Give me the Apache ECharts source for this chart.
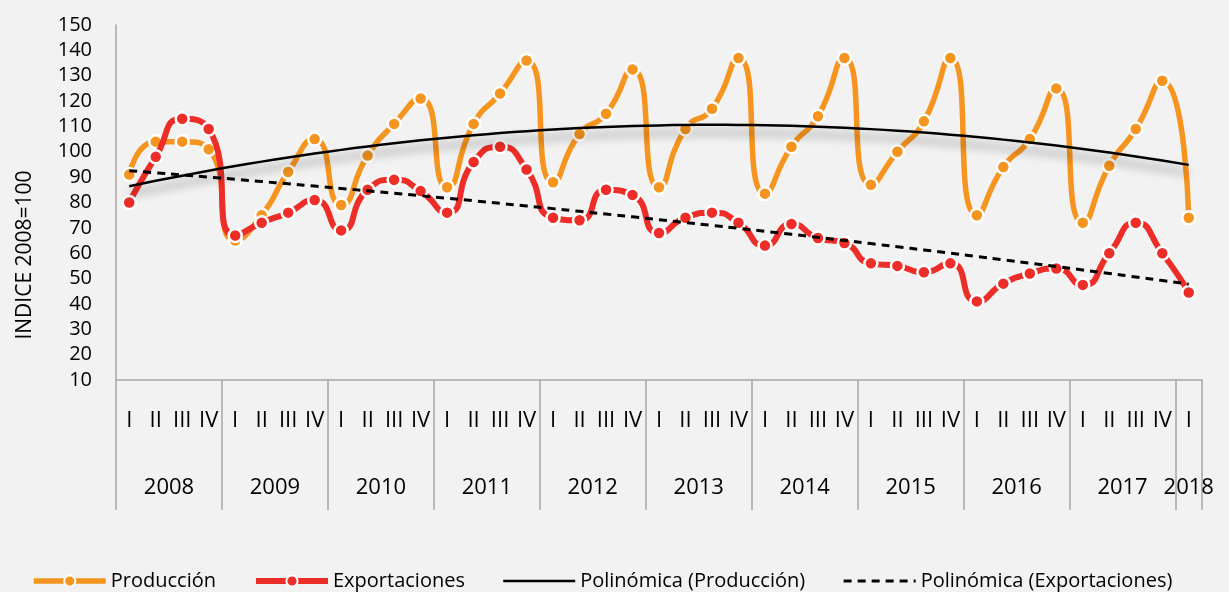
<!DOCTYPE html>
<html><head><meta charset="utf-8">
<script src="https://cdn.jsdelivr.net/npm/echarts@6/dist/echarts.min.js"></script>
<style>html,body{margin:0;padding:0;background:#F2F2F2;}#c{width:1229px;height:592px;}</style>
</head><body><div id="c"></div>
<script>
const years = ['2008','2009','2010','2011','2012','2013','2014','2015','2016','2017','2018'];
const quarterLabels = [
  'I','II','III','IV','I','II','III','IV','I','II','III','IV','I','II','III','IV',
  'I','II','III','IV','I','II','III','IV','I','II','III','IV','I','II','III','IV',
  'I','II','III','IV','I','II','III','IV','I'
];
const produccion = [91,104,104,101, 65,75,92,105, 79,98.5,111,121, 86,111,123,136,
  88,107,115,132.5, 86,109,117,137, 83.5,102,114,137, 87,100,112,137,
  75,94,105,125, 72,94.5,109,128, 74];
const exportaciones = [80,98,113,109, 67,72,76,81, 69,85,89,84.5, 76,96,102,93,
  74,73,85,83, 68,74,76,72, 63,71.5,66,64, 56,55,52.5,56,
  41,48,52,54, 47.5,60,72,60, 44.5];
const yTicks = {min:10, max:150, step:10};

// Excel-style order-2 polynomial trendline (least squares on x = 1..n)
function polyTrend(ys){
  const n = ys.length; let S=[0,0,0,0,0], T=[0,0,0];
  for(let i=0;i<n;i++){const x=i+1; let p=1; for(let k=0;k<5;k++){S[k]+=p; if(k<3)T[k]+=p*ys[i]; p*=x;}}
  const A=[[S[0],S[1],S[2],T[0]],[S[1],S[2],S[3],T[1]],[S[2],S[3],S[4],T[2]]];
  for(let c=0;c<3;c++){for(let r=c+1;r<3;r++){const f=A[r][c]/A[c][c];for(let k=c;k<4;k++)A[r][k]-=f*A[c][k];}}
  const b=[0,0,0];
  for(let r=2;r>=0;r--){let s=A[r][3];for(let k=r+1;k<3;k++)s-=A[r][k]*b[k];b[r]=s/A[r][r];}
  return ys.map((_,i)=>{const x=i+1;return b[0]+b[1]*x+b[2]*x*x;});
}
const n = quarterLabels.length;
const yearAt = {};
years.forEach((y,k)=>{const start=k*4;const cnt=Math.min(4,n-start);yearAt[start+cnt/2]=y;});

const ORANGE='#F5941E', RED='#ED2D27', AX='#A6A6A6', FONT='Open Sans';
const HIDDEN = {color:'rgba(0,0,0,0)',borderColor:'rgba(0,0,0,0)',borderWidth:0};
const chart = echarts.init(document.getElementById('c'));
chart.setOption({
  backgroundColor:'#F2F2F2',
  animation:false,
  textStyle:{fontFamily:FONT},
  grid:{left:116,right:27,top:25,bottom:212},
  legend:{top:566,left:26,itemWidth:72,itemHeight:14,itemGap:37,
    lineStyle:{width:'inherit'},
    textStyle:{fontSize:20,color:'#000',fontFamily:FONT},
    data:[
      {name:'Producción'},
      {name:'Exportaciones'},
      {name:'Polinómica (Producción)',itemStyle:HIDDEN,lineStyle:{width:2.5,shadowBlur:0,shadowOffsetY:0,shadowColor:'rgba(0,0,0,0)'}},
      {name:'Polinómica (Exportaciones)',itemStyle:HIDDEN,lineStyle:{width:3}}
    ]},
  xAxis:[
    {type:'category',data:quarterLabels,boundaryGap:true,
      axisLine:{lineStyle:{color:AX,width:1.5}},
      axisTick:{show:true,interval:(i)=>i%4===0,length:130,lineStyle:{color:AX,width:1.5}},
      axisLabel:{interval:0,margin:30,fontSize:22,color:'#000',fontFamily:FONT}},
    {type:'value',min:0,max:n,interval:0.5,position:'bottom',offset:90,
      axisLine:{show:false},axisTick:{show:false},splitLine:{show:false},
      axisLabel:{margin:7,fontSize:22,color:'#000',fontFamily:FONT,showMinLabel:true,showMaxLabel:true,
        formatter:(v)=>yearAt[v]||''}}
  ],
  yAxis:{type:'value',min:yTicks.min,max:yTicks.max,interval:yTicks.step,
    axisLine:{show:true,lineStyle:{color:AX,width:1.5}},axisTick:{show:false},splitLine:{show:false},
    axisLabel:{margin:24,fontSize:20,color:'#000',fontFamily:FONT},
    name:'INDICE 2008=100',nameLocation:'middle',nameGap:80,
    nameTextStyle:{fontSize:21,color:'#000',fontFamily:FONT,padding:[0,105,0,0]}},
  series:[
    {name:'Producción',type:'line',data:produccion,smooth:0.6,symbol:'circle',symbolSize:13,
      lineStyle:{color:ORANGE,width:5.5},itemStyle:{color:ORANGE,borderColor:'#fff',borderWidth:2.5},z:2},
    {name:'Exportaciones',type:'line',data:exportaciones,smooth:0.6,symbol:'circle',symbolSize:13,
      lineStyle:{color:RED,width:6},itemStyle:{color:RED,borderColor:'#fff',borderWidth:2.5},z:3},
    {name:'Polinómica (Producción)',type:'line',data:polyTrend(produccion),symbol:'none',smooth:true,
      lineStyle:{color:'#000',width:2.5,shadowColor:'rgba(0,0,0,0.5)',shadowBlur:10,shadowOffsetY:8},
      itemStyle:{color:'#000'},z:4},
    {name:'Polinómica (Exportaciones)',type:'line',data:polyTrend(exportaciones),symbol:'none',smooth:true,
      lineStyle:{color:'#000',width:3,type:[8,6]},itemStyle:{color:'#000'},z:4}
  ]
});
</script></body></html>
